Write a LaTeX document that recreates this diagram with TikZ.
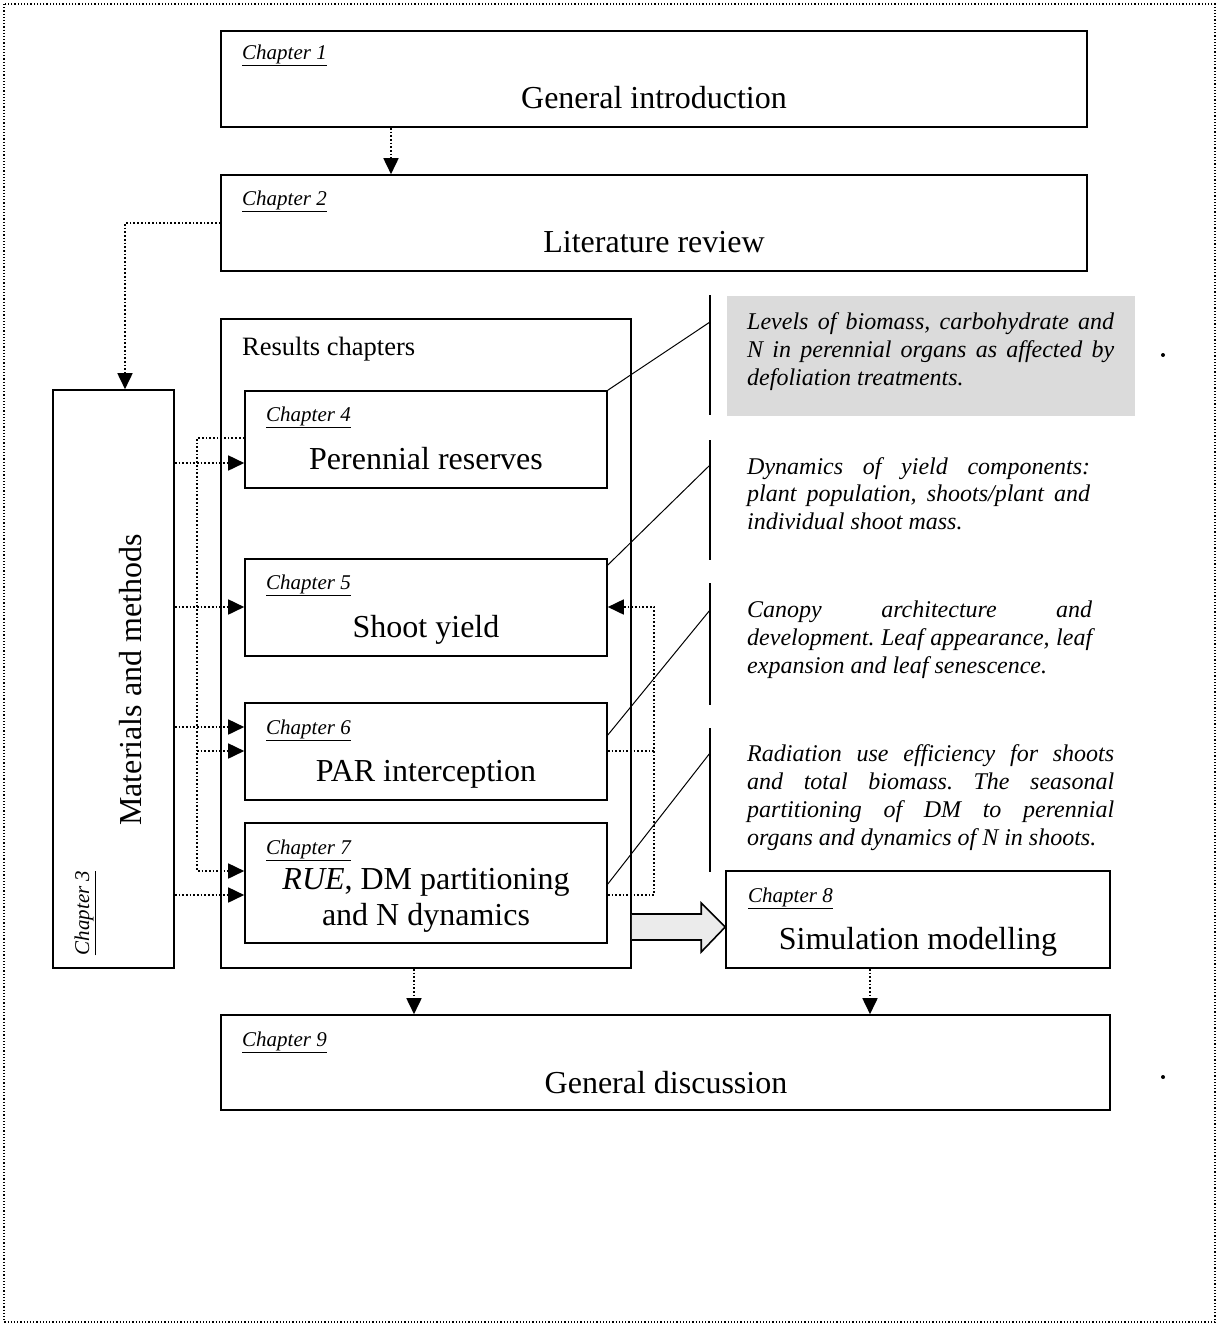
\documentclass[tikz,border=0pt]{standalone}
\usepackage{fontspec}
\setmainfont{Liberation Serif}
\usetikzlibrary{arrows.meta,calc}
\frenchspacing
\begin{document}
\begin{tikzpicture}[x=1pt,y=-1pt,
 box/.style={draw, line width=1.6pt, rectangle, inner sep=0pt},
 lab/.style={anchor=base west, inner sep=0pt, font=\fontsize{21}{25}\selectfont\itshape\frenchspacing},
 ttl/.style={anchor=base, inner sep=0pt, font=\fontsize{32}{38}\selectfont},
 desc/.style={anchor=base west, inner sep=0pt, font=\fontsize{24}{28}\selectfont\itshape\frenchspacing},
 dotln/.style={line width=1.7pt, dotted},
 dotarrow/.style={dotln, -{Triangle[length=16pt,width=15pt]}},
 thinln/.style={line width=1pt},
 brk/.style={line width=1.4pt},
 bigarrow/.style={draw, line width=1.6pt, fill=black!8, line join=miter}
]
\useasboundingbox (0,0) rectangle (1219,1325);
% outer dotted border
\draw[line width=1.2pt, dotted] (4,4) rectangle (1215,1322);

% boxes
\node[box, minimum width=866pt, minimum height=96pt] (c1) at (654,79) {};
\node[box, minimum width=866pt, minimum height=96pt] (c2) at (654,223) {};
\node[box, minimum width=121pt, minimum height=578pt] (c3) at (113.5,679) {};
\node[box, minimum width=410pt, minimum height=649pt] (res) at (426,643.5) {};
\node[box, minimum width=362pt, minimum height=97pt] (c4) at (426,439.5) {};
\node[box, minimum width=362pt, minimum height=97pt] (c5) at (426,607.5) {};
\node[box, minimum width=362pt, minimum height=97pt] (c6) at (426,751.5) {};
\node[box, minimum width=362pt, minimum height=120pt] (c7) at (426,883) {};
\node[box, minimum width=384pt, minimum height=97pt] (c8) at (918,919.5) {};
\node[box, minimum width=889pt, minimum height=95pt] (c9) at (665.5,1062.5) {};

% shaded description box
\node[draw=none, fill=black!14, minimum width=408pt, minimum height=120pt, inner sep=0pt] (sh1) at (931,356) {};

% labels and titles
\node[lab] (l1) at (242,59) {\underline{Chapter 1}};
\node[ttl] (t1) at (654,108) {General introduction};
\node[lab] (l2) at (242,205) {\underline{Chapter 2}};
\node[ttl] (t2) at (654,252) {Literature review};
\node[lab, rotate=90, anchor=base] (l3) at (89,913) {\underline{Chapter 3}};
\node[ttl, rotate=90] (t3) at (141,680) {Materials and methods};
\node[anchor=base west, inner sep=0pt, font=\fontsize{26.5}{30}\selectfont] (rl) at (242,355) {Results chapters};
\node[lab] (l4) at (266,421) {\underline{Chapter 4}};
\node[ttl] (t4) at (426,469) {Perennial reserves};
\node[lab] (l5) at (266,589) {\underline{Chapter 5}};
\node[ttl] (t5) at (426,637) {Shoot yield};
\node[lab] (l6) at (266,734) {\underline{Chapter 6}};
\node[ttl] (t6) at (426,781) {PAR interception};
\node[lab] (l7) at (266,854) {\underline{Chapter 7}};
\node[ttl] (t7a) at (426,889) {\textit{RUE}, DM partitioning};
\node[ttl] (t7b) at (426,925) {and N dynamics};
\node[lab] (l8) at (748,902) {\underline{Chapter 8}};
\node[ttl] (t8) at (918,949) {Simulation modelling};
\node[lab] (l9) at (242,1046) {\underline{Chapter 9}};
\node[ttl] (t9) at (666,1093) {General discussion};

% descriptions
\node[desc] (d1a) at (747,329) {\makebox[367pt][s]{Levels of biomass, carbohydrate and}};
\node[desc] (d1b) at (747,357) {\makebox[367pt][s]{N in perennial organs as affected by}};
\node[desc] (d1c) at (747,385) {defoliation treatments.};
\node[desc] (d2a) at (747,474) {\makebox[343pt][s]{Dynamics of yield components:}};
\node[desc] (d2b) at (747,501) {\makebox[343pt][s]{plant population, shoots/plant and}};
\node[desc] (d2c) at (747,529) {individual shoot mass.};
\node[desc] (d3a) at (747,617) {\makebox[345pt][s]{Canopy architecture and}};
\node[desc] (d3b) at (747,645) {\makebox[345pt][s]{development. Leaf appearance, leaf}};
\node[desc] (d3c) at (747,673) {expansion and leaf senescence.};
\node[desc] (d4a) at (747,761) {\makebox[367pt][s]{Radiation use efficiency for shoots}};
\node[desc] (d4b) at (747,789) {\makebox[367pt][s]{and total biomass. The seasonal}};
\node[desc] (d4c) at (747,817) {\makebox[367pt][s]{partitioning of DM to perennial}};
\node[desc] (d4d) at (747,845) {organs and dynamics of N in shoots.};

% brackets and diagonals
\coordinate (b1) at (710,322);
\coordinate (b2) at (710,465);
\coordinate (b3) at (710,610);
\coordinate (b4) at (710,753);
\draw[brk] (710,295) -- (710,415);
\draw[brk] (710,440) -- (710,560);
\draw[brk] (710,583) -- (710,705);
\draw[brk] (710,728) -- (710,872);
\draw[thinln] (c4.north east) -- (b1);
\draw[thinln] (c5.east |- 0,565) -- (b2);
\draw[thinln] (c6.east |- 0,735) -- (b3);
\draw[thinln] (c7.east |- 0,884) -- (b4);

% dotted connectors
\draw[dotarrow] (c1.south -| 391,0) -- (c2.north -| 391,0);
\draw[dotarrow] (c2.west) -| (c3.north -| 125,0);
\draw[dotarrow] (c3.east |- 0,463) -- (c4.west |- 0,463);
\draw[dotarrow] (c3.east |- 0,607) -- (c5.west |- 0,607);
\draw[dotarrow] (c3.east |- 0,727) -- (c6.west |- 0,727);
\draw[dotarrow] (c3.east |- 0,895) -- (c7.west |- 0,895);
\coordinate (j1) at (197,751);
\draw[dotarrow] (c4.west |- 0,438) -| (197,871) -- (c7.west |- 0,871);
\draw[dotarrow] (j1) -- (c6.west |- 0,751);
\coordinate (j2) at (654,751);
\draw[dotarrow] (c7.east |- 0,895) -| (654,607) -- (c5.east |- 0,607);
\draw[dotln] (c6.east |- 0,751) -- (j2);
\draw[dotarrow] (res.south -| 414,0) -- (c9.north -| 414,0);
\draw[dotarrow] (c8.south -| 870,0) -- (c9.north -| 870,0);

% big hollow arrow
\coordinate (ba) at (res.east |- 0,927);
\coordinate (bb) at (c8.west |- 0,927);
\draw[bigarrow] ($(ba)+(0,-13)$) -- ($(bb)+(-24,-13)$) -- ($(bb)+(-24,-24)$) -- (bb)
  -- ($(bb)+(-24,25)$) -- ($(bb)+(-24,13)$) -- ($(ba)+(0,13)$);

% stray dots
\fill (1163,355) circle (2pt);
\fill (1163,1077) circle (2pt);
\end{tikzpicture}
\end{document}
